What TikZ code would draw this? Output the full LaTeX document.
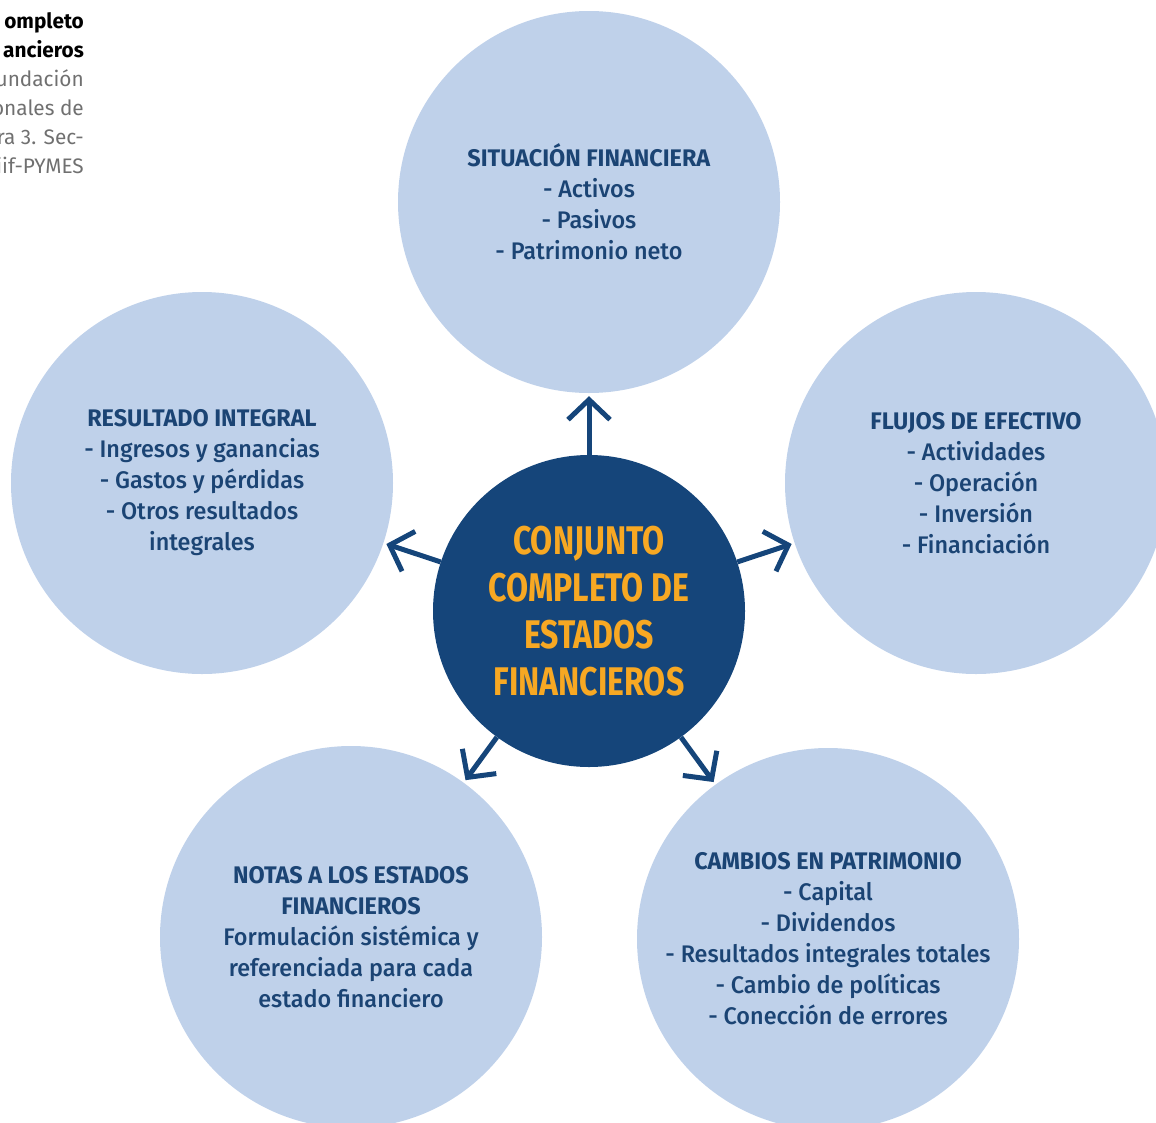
\documentclass[tikz,border=0pt]{standalone}
\usepackage{fontspec}
\setmainfont{Fira Sans Medium}[BoldFont={Fira Sans Bold}, FakeStretch=0.975]
\newfontfamily\hubfont{Fira Sans}[FakeStretch=0.80]
\newfontfamily\notefont{Fira Sans}[FakeStretch=0.99]
\usetikzlibrary{arrows.meta}
\definecolor{navy}{HTML}{15457A}
\definecolor{pale}{HTML}{BFD1EA}
\definecolor{amber}{HTML}{F7A823}
\definecolor{inktext}{HTML}{1B4474}
\definecolor{greytext}{HTML}{707070}
\tikzset{
  bubble/.style={circle, fill=pale, minimum size=382pt, inner sep=0pt,
    text=inktext, align=center, font=\fontsize{24}{31}\selectfont},
  hub/.style={circle, fill=navy, minimum size=312pt, inner sep=0pt,
    text=amber, align=center, font=\hubfont\bfseries\fontsize{40}{47}\selectfont},
  link/.style={draw=navy, line width=5pt,
    -{Straight Barb[length=20pt,width=42pt,sharp]}, shorten >=3pt}
}
\begin{document}
\begin{tikzpicture}[x=1pt,y=-1pt]
\useasboundingbox (0,0) rectangle (1156,1122);
% caption fragment at the page edge
\node[anchor=north east, align=right, inner sep=0pt,
  font=\notefont\fontsize{21}{29}\selectfont, text=greytext] (caption) at (84,12)
  {\textcolor{black}{\bfseries ompleto}\\\textcolor{black}{\bfseries ancieros}\\undación\\onales de\\ra 3. Sec-\\iif-PYMES};
% outer statements
\node[bubble] (sit) at (589,202) {\textbf{SITUACIÓN FINANCIERA}\\- Activos\\- Pasivos\\- Patrimonio neto};
\node[bubble] (res) at (202,483) {\textbf{RESULTADO INTEGRAL}\\- Ingresos y ganancias\\- Gastos y pérdidas\\- Otros resultados\\integrales};
\node[bubble] (flu) at (976,483) {\textbf{FLUJOS DE EFECTIVO}\\- Actividades\\- Operación\\- Inversión\\- Financiación};
\node[bubble] (not) at (351,937) {\textbf{NOTAS A LOS ESTADOS}\\\textbf{FINANCIEROS}\\Formulación sistémica y\\referenciada para cada\\estado financiero};
\node[bubble] (cam) at (828,939) {\textbf{CAMBIOS EN PATRIMONIO}\\- Capital\\- Dividendos\\- Resultados integrales totales\\- Cambio de políticas\\- Conección de errores};
% central set
\node[hub] (hub) at (589,611) {CONJUNTO\\COMPLETO DE\\ESTADOS\\FINANCIEROS};
% connectors
\draw[link] (hub) -- (sit);
\draw[link] (hub) -- (res);
\draw[link] (hub) -- (flu);
\draw[link] (hub) -- (not);
\draw[link] (hub) -- (cam);
\end{tikzpicture}
\end{document}
